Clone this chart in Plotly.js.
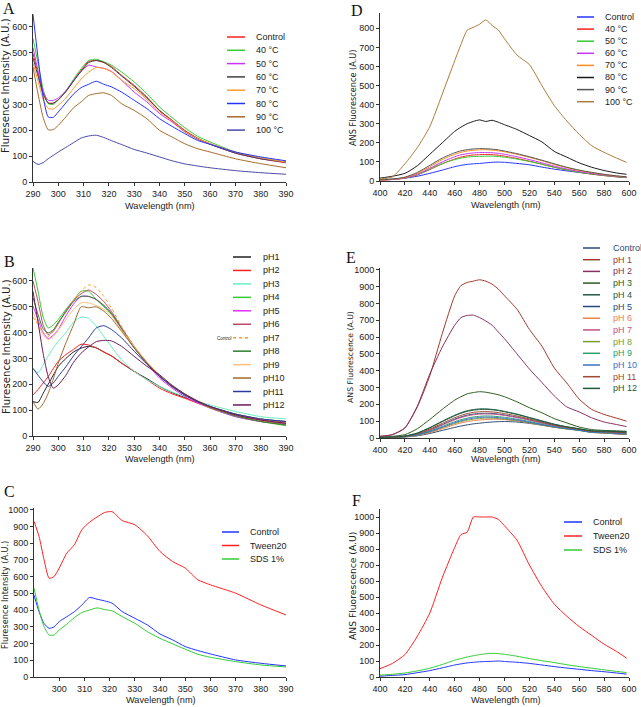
<!DOCTYPE html>
<html>
<head>
<meta charset="utf-8">
<script src="https://cdn.plot.ly/plotly-3.0.1.min.js"></script>
<style>
  html, body { margin: 0; padding: 0; background: #fff; }
  #chart { width: 641px; height: 707px; }
</style>
</head>
<body>
<div id="chart"></div>
<script>
'use strict'
var W = 641, H = 707;

// wavelength grids (nm)
var wlTrp = [290, 292, 294, 296, 298, 300, 303, 306, 309, 312, 315, 318, 321, 325, 330, 335, 340, 345, 350, 355, 360, 370, 380, 390];
var wlAns = [400, 410, 420, 430, 440, 450, 460, 465, 470, 475, 480, 485, 490, 495, 500, 510, 520, 530, 540, 550, 560, 570, 580, 590, 598];

// ---- A: intrinsic fluorescence, temperature ----
var tempNamesA = ["Control", "40 °C", "50 °C", "60 °C", "70 °C", "80 °C", "90 °C", "100 °C"];
var tempColorsA = ["#ff2020", "#33cc33", "#c833f5", "#404040", "#ff9a33", "#2233ff", "#a86a2a", "#4a4aa8"];
var tempA = [
  [497, 420, 345, 306, 305, 318, 350, 392, 432, 466, 470, 462, 447, 413, 374, 329, 277, 239, 200, 170, 148, 112, 90, 74],
  [555, 460, 360, 303, 300, 318, 352, 397, 438, 470, 475, 465, 452, 426, 387, 342, 290, 249, 210, 177, 155, 116, 93, 77],
  [520, 430, 350, 316, 316, 325, 353, 392, 428, 452, 445, 440, 428, 394, 348, 310, 265, 232, 194, 166, 146, 112, 90, 77],
  [480, 410, 340, 306, 305, 318, 350, 390, 428, 462, 470, 463, 443, 410, 370, 325, 277, 236, 197, 168, 146, 112, 90, 77],
  [460, 390, 320, 285, 282, 297, 325, 362, 398, 425, 443, 439, 426, 394, 361, 319, 271, 236, 196, 168, 148, 116, 94, 77],
  [649, 480, 330, 252, 250, 271, 306, 340, 365, 378, 390, 378, 368, 348, 316, 284, 245, 215, 187, 161, 146, 116, 97, 82],
  [445, 340, 250, 202, 203, 219, 252, 287, 310, 335, 342, 345, 335, 303, 277, 245, 200, 174, 148, 129, 116, 90, 71, 55],
  [80, 68, 75, 90, 103, 116, 134, 152, 170, 178, 181, 172, 160, 145, 126, 112, 97, 82, 70, 62, 55, 44, 36, 30]
];

// ---- D: ANS fluorescence, temperature ----
var tempNamesD = ["Control", "40 °C", "50 °C", "60 °C", "70 °C", "80 °C", "90 °C", "100 °C"];
var tempColorsD = ["#2233ff", "#ff2020", "#33cc33", "#c833f5", "#ff8c1a", "#1a1a1a", "#555555", "#b07a3a"];
var tempD = [
  [8, 10, 15, 25, 40, 57, 75, 82, 87, 90, 92, 95, 98, 99, 98, 92, 85, 73, 62, 53, 45, 37, 30, 23, 18],
  [5, 8, 15, 32, 60, 90, 115, 125, 132, 136, 138, 139, 138, 135, 130, 118, 104, 88, 72, 58, 46, 36, 28, 22, 18],
  [5, 8, 15, 33, 62, 92, 112, 120, 125, 128, 129, 130, 130, 128, 125, 115, 102, 88, 72, 58, 46, 37, 29, 22, 18],
  [5, 8, 16, 35, 67, 100, 127, 137, 143, 147, 149, 149, 148, 145, 140, 127, 112, 95, 78, 63, 50, 40, 31, 24, 20],
  [5, 9, 18, 40, 75, 112, 140, 150, 157, 161, 163, 164, 162, 158, 153, 140, 124, 106, 87, 70, 55, 44, 34, 26, 21],
  [15, 25, 40, 80, 140, 200, 260, 282, 300, 312, 320, 312, 318, 308, 295, 270, 238, 205, 155, 125, 95, 72, 55, 42, 35],
  [6, 10, 20, 45, 82, 120, 148, 158, 164, 168, 170, 169, 167, 163, 157, 143, 127, 109, 90, 72, 57, 45, 35, 27, 22],
  [10, 22, 90, 175, 285, 455, 630, 715, 790, 805, 821, 844, 815, 791, 745, 660, 610, 500, 395, 315, 245, 185, 150, 120, 98]
];

// ---- B: intrinsic fluorescence, pH ----
var phNamesB = ["pH1", "pH2", "pH3", "pH4", "pH5", "pH6", "pH7", "pH8", "pH9", "pH10", "pH11", "pH12"];
var phColorsB = ["#202020", "#ff2020", "#66f0c0", "#33cc33", "#dd33ff", "#c04a66", "#ff9922", "#2e7d2e", "#ffc080", "#a06a30", "#2a3a9a", "#6a1a5a"];
var phB = [
  [133, 130, 165, 200, 235, 269, 300, 325, 340, 347, 341, 325, 310, 282, 250, 222, 192, 168, 149, 130, 114, 85, 66, 56],
  [159, 180, 205, 230, 260, 289, 315, 335, 355, 352, 341, 325, 310, 282, 250, 218, 185, 163, 146, 127, 110, 82, 62, 53],
  [259, 245, 275, 310, 340, 367, 400, 440, 460, 455, 425, 385, 345, 295, 250, 218, 192, 170, 153, 135, 120, 95, 75, 66],
  [650, 560, 460, 418, 430, 451, 490, 525, 560, 560, 528, 500, 470, 412, 341, 282, 231, 192, 159, 133, 108, 75, 56, 40],
  [503, 450, 400, 377, 390, 412, 465, 510, 540, 540, 528, 505, 475, 415, 341, 280, 224, 185, 153, 128, 108, 75, 56, 47],
  [600, 520, 430, 392, 405, 435, 485, 525, 550, 565, 548, 520, 482, 420, 347, 285, 231, 190, 159, 135, 114, 82, 62, 47],
  [460, 430, 400, 386, 405, 438, 480, 525, 560, 585, 574, 540, 495, 425, 347, 282, 231, 192, 159, 133, 108, 78, 58, 43],
  [535, 470, 415, 399, 410, 440, 480, 520, 540, 540, 528, 505, 475, 415, 341, 282, 231, 192, 159, 133, 111, 78, 56, 43],
  [480, 430, 390, 373, 385, 410, 450, 490, 515, 515, 505, 490, 465, 410, 347, 288, 237, 196, 163, 136, 114, 84, 65, 49],
  [133, 104, 125, 165, 220, 282, 360, 430, 500, 496, 500, 483, 455, 405, 341, 283, 233, 192, 159, 133, 111, 82, 62, 49],
  [262, 235, 210, 192, 205, 231, 268, 310, 345, 380, 418, 427, 412, 380, 328, 278, 231, 192, 159, 133, 114, 85, 66, 56],
  [560, 440, 320, 230, 185, 198, 235, 285, 320, 345, 365, 370, 368, 347, 308, 270, 237, 196, 163, 136, 114, 82, 62, 49]
];

// ---- E: ANS fluorescence, pH ----
var phNamesE = ["Control", "pH 1", "pH 2", "pH 3", "pH 4", "pH 5", "pH 6", "pH 7", "pH 8", "pH 9", "pH 10", "pH 11", "pH 12"];
var phColorsE = ["#2a4a7a", "#a03a2a", "#8a3060", "#2e5a1e", "#1e5a4a", "#254a7a", "#f08050", "#c8508a", "#7aa030", "#2aa070", "#4070c8", "#a04830", "#1e5a3a"];
var phE = [
  [3, 4, 6, 13, 27, 45, 63, 71, 78, 84, 88, 92, 95, 97, 98, 95, 87, 76, 64, 55, 46, 36, 30, 24, 20],
  [10, 20, 60, 185, 370, 620, 845, 905, 924, 932, 940, 932, 914, 885, 845, 765, 645, 546, 416, 327, 231, 170, 140, 118, 100],
  [10, 20, 60, 190, 380, 540, 670, 715, 728, 730, 715, 695, 670, 630, 590, 500, 410, 330, 250, 185, 155, 120, 95, 80, 68],
  [5, 10, 20, 55, 110, 170, 225, 245, 262, 270, 275, 272, 265, 257, 245, 215, 180, 150, 115, 90, 65, 50, 45, 42, 40],
  [3, 6, 12, 30, 62, 100, 135, 150, 162, 169, 173, 173, 170, 165, 158, 142, 122, 102, 82, 67, 55, 43, 42, 40, 38],
  [3, 5, 9, 22, 48, 80, 112, 125, 136, 142, 146, 147, 146, 142, 137, 124, 108, 91, 74, 61, 50, 38, 35, 32, 29],
  [3, 5, 7, 15, 32, 55, 79, 89, 97, 103, 107, 110, 111, 111, 109, 101, 90, 77, 64, 54, 45, 33, 29, 25, 22],
  [3, 5, 9, 21, 46, 77, 108, 121, 131, 138, 142, 143, 142, 139, 134, 121, 106, 89, 72, 60, 49, 37, 34, 31, 28],
  [3, 5, 8, 17, 36, 61, 86, 97, 106, 112, 116, 118, 118, 116, 112, 103, 91, 78, 65, 54, 45, 33, 30, 26, 23],
  [3, 5, 8, 19, 41, 69, 97, 109, 118, 125, 129, 131, 130, 127, 123, 112, 98, 83, 68, 57, 47, 35, 32, 29, 26],
  [3, 5, 8, 18, 38, 64, 91, 102, 111, 118, 122, 124, 123, 121, 117, 107, 94, 80, 66, 55, 46, 34, 31, 27, 24],
  [3, 5, 10, 25, 53, 87, 120, 134, 145, 152, 156, 157, 155, 151, 145, 131, 113, 95, 77, 63, 52, 40, 37, 34, 31],
  [3, 6, 11, 28, 60, 97, 132, 147, 158, 165, 169, 170, 168, 163, 156, 140, 120, 100, 81, 66, 54, 42, 40, 38, 35]
];

// ---- C / F: surfactants ----
var surfNames = ["Control", "Tween20", "SDS 1%"];
var surfColors = ["#2233ff", "#ff2020", "#33cc33"];
var surfC = [
  [490, 390, 320, 291, 300, 331, 360, 390, 430, 475, 465, 455, 441, 391, 351, 311, 257, 222, 182, 158, 138, 102, 82, 66],
  [930, 840, 700, 590, 601, 651, 740, 790, 880, 925, 956, 983, 988, 935, 910, 844, 750, 690, 651, 581, 551, 501, 431, 371],
  [531, 400, 300, 251, 251, 281, 315, 355, 385, 400, 413, 403, 395, 361, 321, 271, 231, 198, 166, 136, 118, 92, 72, 60]
];
var surfF = [
  [5, 10, 15, 27, 40, 57, 75, 82, 88, 92, 95, 97, 98, 100, 97, 92, 85, 75, 65, 56, 48, 40, 33, 25, 18],
  [52, 85, 140, 255, 400, 620, 810, 890, 905, 1000, 1000, 1000, 1000, 985, 945, 855, 700, 565, 455, 380, 315, 260, 205, 160, 118],
  [12, 17, 25, 38, 55, 78, 105, 115, 125, 133, 140, 145, 148, 146, 142, 130, 115, 102, 90, 77, 65, 55, 45, 35, 28]
];

// pixel helpers -> paper coordinates
function px(x){ return x / W; }
function py(y){ return 1 - y / H; }

var FONT = "Liberation Sans, Arial, sans-serif";
var WIDE = "DejaVu Sans, Verdana, sans-serif";
var traces = [];

function addSeries(x, ys, names, colors, axNum, dashIdx){
  for(var i = 0; i < ys.length; i++){
    traces.push({
      type: "scatter",
      mode: "lines",
      name: names[i],
      x: x,
      y: ys[i],
      xaxis: "x" + (axNum > 1 ? axNum : ""),
      yaxis: "y" + (axNum > 1 ? axNum : ""),
      line: {color: colors[i], width: 1, shape: "spline", smoothing: 0.6, dash: (i === dashIdx) ? "dot" : "solid"},
      hoverinfo: "skip"
    });
  }
}

addSeries(wlTrp, tempA, tempNamesA, tempColorsA, 1, -1);
addSeries(wlAns, tempD, tempNamesD, tempColorsD, 2, -1);
addSeries(wlTrp, phB, phNamesB, phColorsB, 3, 6);
addSeries(wlAns, phE, phNamesE, phColorsE, 4, -1);
addSeries(wlTrp, surfC, surfNames, surfColors, 5, -1);
addSeries(wlAns, surfF, surfNames, surfColors, 6, -1);

function axis(box, range, tickvals, isX){
  var a = {
    range: range,
    tickvals: tickvals,
    showline: true,
    linecolor: "#333",
    linewidth: 1,
    ticks: "outside",
    ticklen: 3,
    tickcolor: "#333",
    showgrid: false,
    zeroline: false,
    fixedrange: true,
    tickfont: {family: FONT, size: 9, color: "#222"}
  };
  if(isX){ a.domain = [px(box[0]), px(box[1])]; }
  else { a.domain = [py(box[3]), py(box[2])]; }
  return a;
}

var ticksTrp = [290, 300, 310, 320, 330, 340, 350, 360, 370, 380, 390];
var ticksTrpC = [300, 310, 320, 330, 340, 350, 360, 370, 380, 390];
var ticksAns = [400, 420, 440, 460, 480, 500, 520, 540, 560, 580, 600];
var ticks600 = [0, 100, 200, 300, 400, 500, 600];
var ticks800 = [0, 100, 200, 300, 400, 500, 600, 700, 800];
var ticks1000 = [0, 100, 200, 300, 400, 500, 600, 700, 800, 900, 1000];

// plot boxes in pixels: [left, right, top, bottom]
var boxA = [33, 286, 14, 182];
var boxD = [380, 629, 13, 181];
var boxB = [33, 286, 268, 436];
var boxE = [380, 629, 268, 438];
var boxC = [34, 286, 508, 677];
var boxF = [380, 629, 509, 677];

var layout = {
  width: W,
  height: H,
  margin: {l: 0, r: 0, t: 0, b: 0},
  paper_bgcolor: "#fff",
  plot_bgcolor: "rgba(0,0,0,0)",
  showlegend: false,
  xaxis: axis(boxA, [290, 390], ticksTrp, true),
  yaxis: axis(boxA, [0, 650], ticks600, false),
  xaxis2: axis(boxD, [400, 600], ticksAns, true),
  yaxis2: axis(boxD, [0, 880], ticks800, false),
  xaxis3: axis(boxB, [290, 390], ticksTrp, true),
  yaxis3: axis(boxB, [0, 650], ticks600, false),
  xaxis4: axis(boxE, [400, 600], ticksAns, true),
  yaxis4: axis(boxE, [0, 1010], ticks1000, false),
  xaxis5: axis(boxC, [290, 390], ticksTrpC, true),
  yaxis5: axis(boxC, [0, 1010], ticks1000, false),
  xaxis6: axis(boxF, [400, 600], ticksAns, true),
  yaxis6: axis(boxF, [0, 1050], ticks1000, false),
  shapes: [],
  annotations: []
};
for(var k = 2; k <= 6; k++){
  layout["xaxis" + k].anchor = "y" + k;
  layout["yaxis" + k].anchor = "x" + k;
}

function note(x, y, text, size, opts){
  var a = {
    xref: "paper", yref: "paper",
    x: px(x), y: py(y),
    text: text, showarrow: false,
    xanchor: "center", yanchor: "middle",
    font: {family: FONT, size: size, color: "#222"}
  };
  for(var key in opts){ a[key] = opts[key]; }
  layout.annotations.push(a);
}

// hand-made legends (compact spacing of the original)
function legend(names, colors, x0, x1, tx, y0, dy, size, colorText, dashIdx){
  for(var i = 0; i < names.length; i++){
    var y = y0 + i * dy;
    layout.shapes.push({
      type: "line", xref: "paper", yref: "paper",
      x0: px(x0), x1: px(x1), y0: py(y), y1: py(y),
      line: {color: colors[i], width: 1.5, dash: (i === dashIdx) ? "dot" : "solid"}
    });
    note(tx, y, names[i], size, {xanchor: "left", font: {family: FONT, size: size, color: colorText ? colors[i] : "#222"}});
  }
}

legend(tempNamesA, tempColorsA, 227, 245, 254, 37, 13.3, 9, false, -1);
legend(tempNamesD, tempColorsD, 577, 594, 603, 17, 12.1, 9, false, -1);
legend(phNamesB, phColorsB, 233, 251, 261, 257, 13.45, 9, false, 6);
legend(phNamesE, phColorsE, 583, 600, 611, 248, 11.7, 9, true, -1);
legend(surfNames, surfColors, 222, 239, 248, 532, 13.5, 9, false, -1);
legend(surfNames, surfColors, 564, 582, 591, 522, 14, 9, false, -1);
note(224, 338, "Control", 4.5, {});

// axis titles (y titles use a wider face: long but thin in the original)
var yTitleTrp = "Fluresence Intensity (A.U.)";
var yTitleAns = "ANS Fluorescence (A.U)";
var xTitle = "Wavelength (nm)";
function yTitle(x, y, text, size){
  note(x, y, text, size, {textangle: -90, font: {family: WIDE, size: size, color: "#222"}});
}
yTitle(6, 86, yTitleTrp, 10.2);
yTitle(6, 347, yTitleTrp, 10.2);
yTitle(5, 595, yTitleTrp, 8.2);
yTitle(353, 98, yTitleAns, 8.2);
yTitle(350, 357, yTitleAns, 7.8);
yTitle(352, 586, yTitleAns, 9.2);
note(160, 206, xTitle, 9.2, {});
note(506, 205, xTitle, 9.2, {});
note(160, 459, xTitle, 9.2, {});
note(506, 459, xTitle, 9.2, {});
note(161, 700, xTitle, 9.2, {});
note(506, 700, xTitle, 9.2, {});

// panel letters
var letters = [["A", 9, 9], ["D", 357, 10], ["B", 9, 261], ["E", 351, 258], ["C", 9, 491], ["F", 356, 500]];
for(var j = 0; j < letters.length; j++){
  note(letters[j][1], letters[j][2], letters[j][0], 16, {font: {family: "Liberation Serif, Times New Roman, serif", size: 16, color: "#111"}});
}

Plotly.newPlot("chart", traces, layout, {displayModeBar: false, staticPlot: true});
</script>
</body>
</html>
